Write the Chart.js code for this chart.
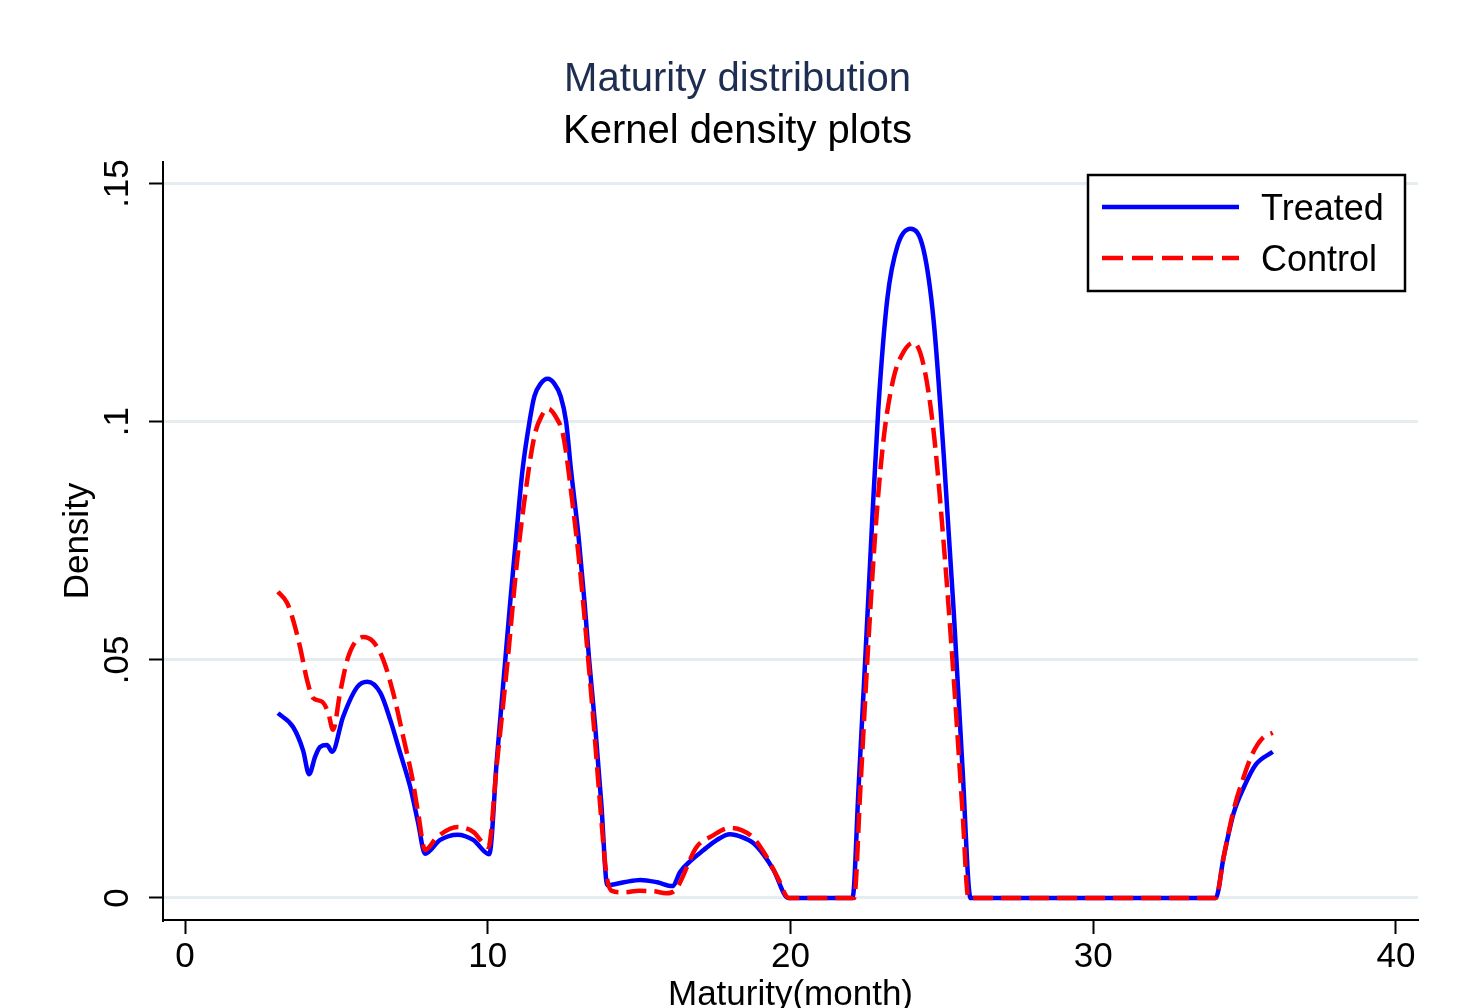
<!DOCTYPE html>
<html><head><meta charset="utf-8">
<script src="https://cdn.jsdelivr.net/npm/chart.js@4.4.0/dist/chart.umd.min.js"></script>
<style>html,body{margin:0;padding:0;background:#fff;overflow:hidden}canvas{display:block}</style>
</head><body>
<canvas id="c" width="1459" height="1008"></canvas>
<script>
// ---- data ----
const treatedX = [3.07, 3.57, 3.9, 4.1, 4.3, 4.46, 4.69, 4.86, 5.22, 5.69, 6.02, 6.45, 6.78, 7.11, 7.44, 7.7, 7.93, 8.43, 9.0, 9.52, 10.05,
  10.3, 10.58, 10.74, 10.94, 11.15, 11.38, 11.54, 11.75, 11.98, 12.2, 12.41, 12.59, 12.75, 13.0, 13.2, 13.35, 13.55, 13.75, 13.95,
  14.5, 15.04, 15.6, 16.1, 16.36, 16.7, 17.12, 17.55, 18.0, 18.4, 18.78, 19.1, 19.44, 19.93,
  21.0, 22.05, 22.25, 22.48, 22.7, 22.9, 23.2, 23.54, 23.97, 24.4, 24.73, 25.06, 25.39, 25.68, 25.95,
  30.0, 34.05, 34.31, 34.64, 34.98, 35.37, 35.93];
const treatedY = [0.0388, 0.0359, 0.031, 0.026, 0.0297, 0.0317, 0.0321, 0.0307, 0.038, 0.0443, 0.0454, 0.0431, 0.0374, 0.0304, 0.0233, 0.0158, 0.0093, 0.0122, 0.0133, 0.0122, 0.0092,
  0.029, 0.05, 0.0619, 0.0759, 0.0899, 0.1, 0.1053, 0.108, 0.109, 0.108, 0.1053, 0.1, 0.0899, 0.0759, 0.0619, 0.05, 0.036, 0.020, 0.0027,
  0.0033, 0.0038, 0.0033, 0.0025, 0.0055, 0.0078, 0.0100, 0.0121, 0.0134, 0.0128, 0.0115, 0.0092, 0.0059, 0,
  0, 0, 0.0231, 0.0513, 0.0792, 0.1025, 0.1258, 0.137, 0.1405, 0.136, 0.1212, 0.0933, 0.0605, 0.0277, 0,
  0, 0, 0.0086, 0.0178, 0.0233, 0.028, 0.0307];

const controlX = [3.07, 3.37, 3.57, 3.8, 4.03, 4.23, 4.53, 4.73, 4.89, 5.12, 5.39, 5.88, 6.22, 6.55, 6.88, 7.21, 7.5, 7.7, 7.93, 8.33, 9.0, 9.52, 10.02,
  10.3, 10.66, 10.94, 11.2, 11.54, 11.78, 12.0, 12.25, 12.5, 12.8, 13.05, 13.32, 13.52, 13.72, 13.92, 14.1,
  14.5, 15.0, 15.5, 15.9, 16.2, 16.9, 17.4, 18.0, 18.4, 18.78, 19.2, 19.57, 19.95,
  21.0, 22.1, 22.31, 22.55, 22.81, 23.07, 23.4, 23.74, 24.07, 24.4, 24.73, 25.06, 25.39, 25.68, 25.88,
  30.0, 34.05, 34.31, 34.64, 34.94, 35.27, 35.6, 35.93];
const controlY = [0.0643, 0.062, 0.0584, 0.0527, 0.0458, 0.042, 0.0412, 0.0389, 0.0353, 0.043, 0.0506, 0.0548, 0.0538, 0.05, 0.043, 0.0338, 0.0254, 0.0179, 0.0101, 0.0128, 0.0149, 0.0139, 0.0107,
  0.028, 0.05, 0.0689, 0.0829, 0.0969, 0.1012, 0.1027, 0.101, 0.0969, 0.0829, 0.0689, 0.05, 0.035, 0.019, 0.005, 0.0015,
  0.0012, 0.0015, 0.0014, 0.0010, 0.0017, 0.0107, 0.013, 0.0147, 0.0142, 0.0126, 0.0088, 0.0044, 0,
  0, 0, 0.023, 0.051, 0.0773, 0.096, 0.109, 0.1147, 0.1166, 0.1118, 0.0979, 0.0746, 0.0464, 0.0185, 0,
  0, 0, 0.0086, 0.0185, 0.0248, 0.0304, 0.0336, 0.0347];

const seriesNames = ['Treated', 'Control'];
const xTickValues = [0, 10, 20, 30, 40];
const xTickLabels = ['0', '10', '20', '30', '40'];
const yTickValues = [0, 0.05, 0.1, 0.15];
const yTickLabels = ['0', '.05', '.1', '.15'];
const titleText = 'Maturity distribution';
const subtitleText = 'Kernel density plots';
const xTitle = 'Maturity(month)';
const yTitle = 'Density';

// ---- drawing ----
const FONT = "'Liberation Sans', Arial, Helvetica, sans-serif";
function pts(xs, ys) { return xs.map((x, i) => ({ x: x, y: ys[i] })); }

const yLabelPlugin = {
  id: 'yRotLabels',
  afterDraw(chart) {
    const s = chart.scales.y, ctx = chart.ctx;
    ctx.save();
    ctx.font = '35px ' + FONT;
    ctx.fillStyle = '#000';
    ctx.textAlign = 'center';
    ctx.textBaseline = 'alphabetic';
    s.ticks.forEach((t, i) => {
      const py = s.getPixelForValue(t.value);
      ctx.save();
      ctx.translate(s.right - 35, py);
      ctx.rotate(-Math.PI / 2);
      ctx.fillText(yTickLabels[i], 0, 0);
      ctx.restore();
    });
    ctx.restore();
  }
};

const legendPlugin = {
  id: 'boxLegend',
  afterDraw(chart) {
    const { ctx, chartArea } = chart;
    const right = chartArea.right - 13, top = chartArea.top + 13;
    const w = 317, h = 116, left = right - w;
    ctx.save();
    ctx.fillStyle = '#fff';
    ctx.fillRect(left, top, w, h);
    ctx.lineWidth = 2.5;
    ctx.strokeStyle = '#000';
    ctx.strokeRect(left, top, w, h);
    chart.data.datasets.forEach((ds, i) => {
      const y = top + 32 + i * 51;
      ctx.beginPath();
      ctx.setLineDash(ds.borderDash && ds.borderDash.length ? [21, 9] : []);
      ctx.lineWidth = 4.5;
      ctx.strokeStyle = ds.borderColor;
      ctx.moveTo(left + 14, y);
      ctx.lineTo(left + 151, y);
      ctx.stroke();
      ctx.setLineDash([]);
      ctx.fillStyle = '#000';
      ctx.font = '36px ' + FONT;
      ctx.textBaseline = 'alphabetic';
      ctx.textAlign = 'left';
      ctx.fillText(ds.label, left + 173, y + 13);
    });
    ctx.restore();
  }
};

new Chart(document.getElementById('c'), {
  type: 'line',
  data: {
    datasets: [
      { label: seriesNames[0], data: pts(treatedX, treatedY), borderColor: '#0000ff', borderWidth: 4.5,
        pointRadius: 0, fill: false, cubicInterpolationMode: 'monotone', order: 1, borderJoinStyle: 'round' },
      { label: seriesNames[1], data: pts(controlX, controlY), borderColor: '#ff0000', borderWidth: 4.5,
        borderDash: [20, 8], pointRadius: 0, fill: false, cubicInterpolationMode: 'monotone', order: 0 }
    ]
  },
  options: {
    responsive: false, animation: false, devicePixelRatio: 1,
    layout: { padding: { left: 57, right: 41, top: 0, bottom: 0 } },
    plugins: {
      legend: { display: false },
      tooltip: { enabled: false },
      title: { display: true, text: titleText, color: '#1e2e50',
        font: { family: FONT, size: 40, weight: 'normal', lineHeight: 1.2 }, padding: { top: 55.6, bottom: 0 } },
      subtitle: { display: true, text: subtitleText, color: '#000',
        font: { family: FONT, size: 40, weight: 'normal', lineHeight: 1.2 }, padding: { top: 4.2, bottom: 6.2 } }
    },
    scales: {
      x: {
        type: 'linear', min: -0.727, max: 40.73,
        afterBuildTicks: s => { s.ticks = xTickValues.map(v => ({ value: v })); },
        afterFit: s => { s.height = 88; },
        grid: { drawOnChartArea: false, drawTicks: true, tickLength: 14, tickWidth: 2, tickColor: '#000' },
        border: { display: true, color: '#000', width: 2 },
        ticks: { callback: (v, i) => xTickLabels[i], color: '#000', font: { family: FONT, size: 35 }, padding: 2, maxRotation: 0, minRotation: 0 },
        title: { display: true, text: xTitle, color: '#000', font: { family: FONT, size: 35, lineHeight: 1 }, padding: { top: 0, bottom: -5 } }
      },
      y: {
        type: 'linear', min: -0.00462, max: 0.15452,
        afterBuildTicks: s => { s.ticks = yTickValues.map(v => ({ value: v })); },
        afterFit: s => { s.width = 106; },
        grid: { color: '#e6edf0', lineWidth: 3, drawTicks: true, tickLength: 14, tickWidth: 2, tickColor: '#000' },
        border: { display: true, color: '#000', width: 2 },
        ticks: { display: false },
        title: { display: true, text: yTitle, color: '#000', font: { family: FONT, size: 35, lineHeight: 1 }, padding: { top: 3.4, bottom: 0 } }
      }
    }
  },
  plugins: [yLabelPlugin, legendPlugin]
});
</script>
</body></html>
